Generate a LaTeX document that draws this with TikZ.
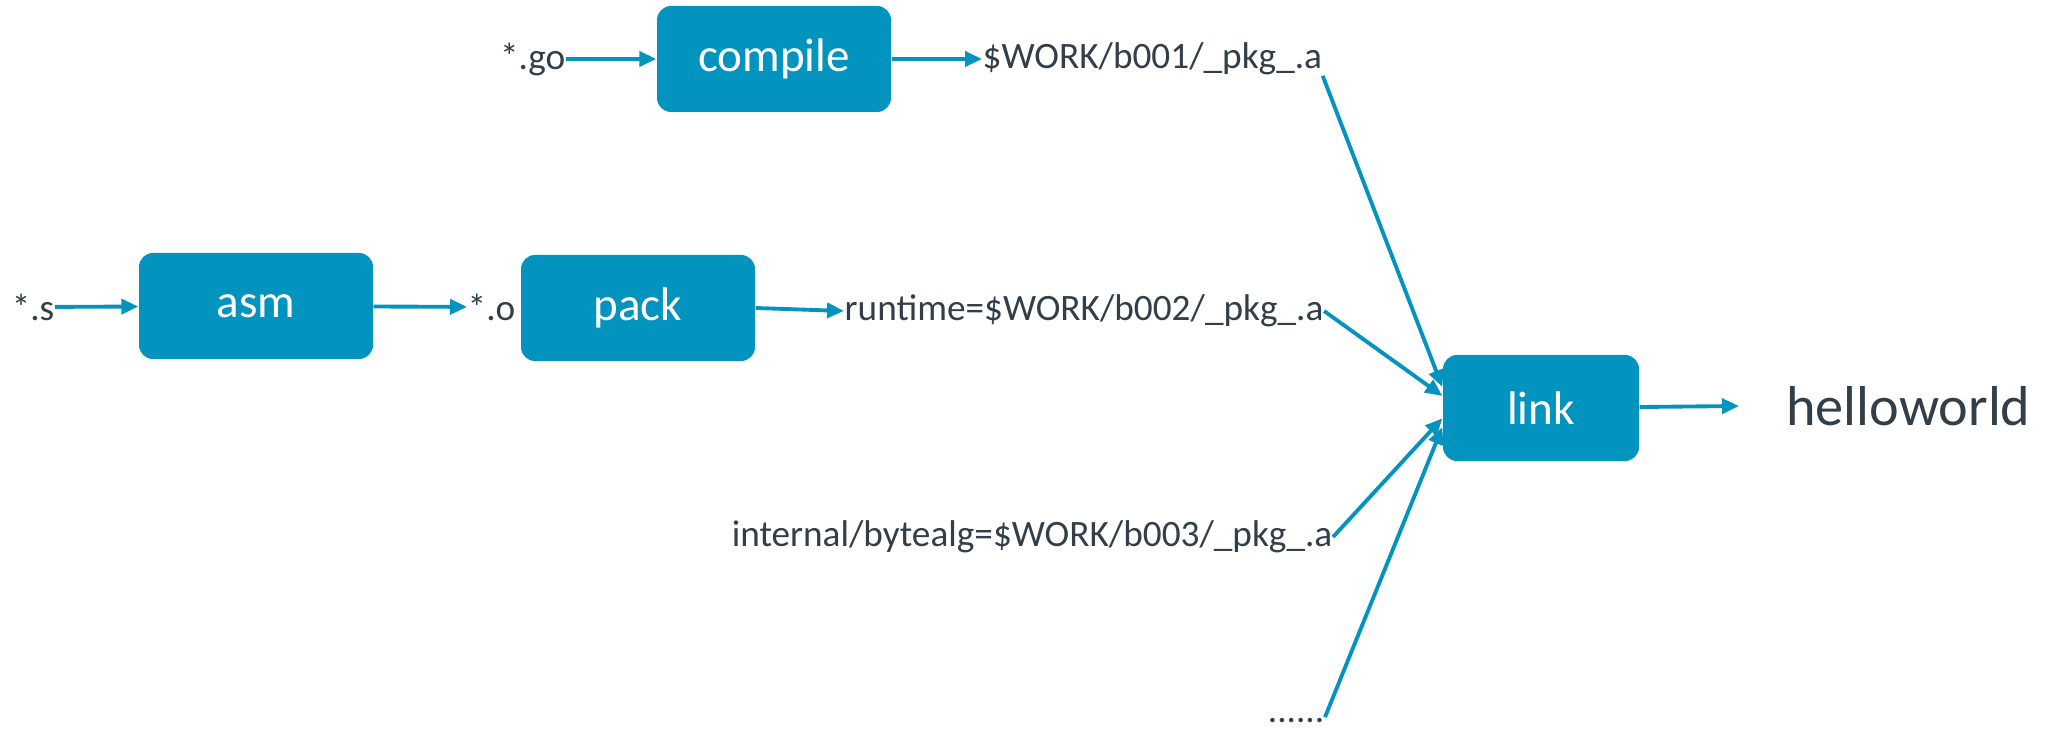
\documentclass[tikz,border=0pt]{standalone}
\usepackage{fontspec}
\setmainfont{Carlito}
\usetikzlibrary{arrows.meta}
\definecolor{gobl}{HTML}{0293BF}
\definecolor{txt}{HTML}{323E48}
\tikzset{
  stage/.style={fill=gobl, rounded corners=0.14cm, text=white,
    minimum width=2.34cm, minimum height=1.06cm,
    font=\fontsize{13.4}{15}\selectfont},
  file/.style={text=txt, inner sep=0pt, font=\fontsize{10.6}{12}\selectfont},
  flow/.style={draw=gobl, line width=1.1pt,
    -{Triangle[length=0.17cm,width=0.15cm]}},
}

\begin{document}
\begin{tikzpicture}
      \useasboundingbox (0,0) rectangle (20.53,-7.31);

      % go sources
      \node[file, anchor=east] (go) at (5.66,-0.59) {*.go};
      \node[stage] (compile) at (7.74,-0.59) {compile};
      \node[file, anchor=west] (b001) at (9.82,-0.59) {\$WORK/b001/\_pkg\_.a};

      % assembly sources
      \node[file, anchor=east] (s) at (0.55,-3.07) {*.s};
      \node[stage] (asm) at (2.56,-3.06) {asm};
      \node[file, anchor=west] (o) at (4.67,-3.07) {*.o};
      \node[stage] (pack) at (6.38,-3.08) {pack};
      \node[file, anchor=west] (b002) at (8.44,-3.11) {runtime=\$WORK/b002/\_pkg\_.a};

      \node[file, anchor=east] (b003) at (13.33,-5.37) {internal/bytealg=\$WORK/b003/\_pkg\_.a};
      \node[file, anchor=base east] (more) at (13.25,-7.22) {......};

      % linker
      \node[stage, minimum width=1.96cm] (link) at (15.41,-4.08) {link};
      \node[anchor=west, text=txt, font=\fontsize{16}{19}\selectfont] (out) at (17.74,-4.06) {helloworld};

      \draw[flow] (go) -- (compile);
      \draw[flow] (compile) -- (b001);
      \draw[flow] (s) -- (asm);
      \draw[flow] (asm) -- (o);
      \draw[flow] (pack.east) -- (b002.west);
      \draw[flow] (b001.south east) -- (link.168);
      \draw[flow] (b002.east) -- (link.173);
      \draw[flow] (b003.east) -- (link.186);
      \draw[flow] (more.north east) -- (link.191);
      \draw[flow] (link) -- ([xshift=-0.35cm]out.west);
\end{tikzpicture}
\end{document}
